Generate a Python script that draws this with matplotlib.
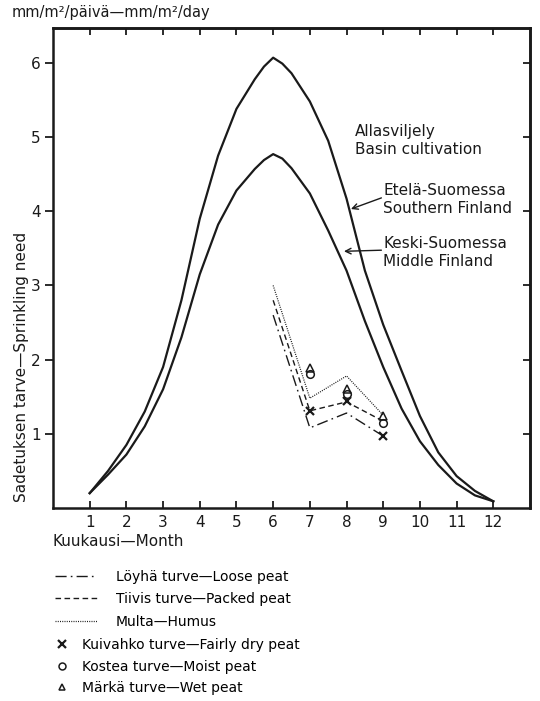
import matplotlib.pyplot as plt
from matplotlib.lines import Line2D

# monthly sprinkling need, basin cultivation
month_pts = [1, 1.5, 2, 2.5, 3, 3.5, 4, 4.5, 5, 5.5, 5.75, 6, 6.25, 6.5,
             7, 7.5, 8, 8.5, 9, 9.5, 10, 10.5, 11, 11.5, 12]
south = [0.2, 0.5, 0.85, 1.3, 1.9, 2.8, 3.9, 4.75, 5.38, 5.78, 5.95, 6.07, 5.99, 5.86,
         5.48, 4.95, 4.17, 3.2, 2.47, 1.85, 1.24, 0.75, 0.43, 0.23, 0.09]
middle = [0.2, 0.45, 0.72, 1.1, 1.6, 2.3, 3.15, 3.82, 4.28, 4.57, 4.69, 4.77, 4.71, 4.58,
          4.24, 3.74, 3.2, 2.52, 1.9, 1.34, 0.9, 0.58, 0.33, 0.17, 0.09]

# peat / soil types
peat_months = [6, 7, 8, 9]
loose = [2.6, 1.08, 1.28, 0.97]
packed = [2.8, 1.31, 1.43, 1.17]
humus = [3.0, 1.48, 1.78, 1.25]

mark_months = [7, 8, 9]
fairly_dry = [1.31, 1.44, 0.97]
moist = [1.80, 1.53, 1.15]
wet = [1.89, 1.60, 1.24]

month_ticks = list(range(1, 13))
need_ticks = [1, 2, 3, 4, 5, 6]

plt.rcParams['font.family'] = ['DejaVu Sans']
ink = '#1a1a1a'

fig = plt.figure(figsize=(5.4, 7.01), dpi=100)
ax = fig.add_axes([53 / 540, 1 - 508 / 701, 477 / 540, 480 / 701])

ax.plot(month_pts, south, color=ink, lw=1.6)
ax.plot(month_pts, middle, color=ink, lw=1.6)

ax.plot(peat_months, loose, color=ink, lw=1.0, dashes=(8, 3, 1.2, 3))
ax.plot(peat_months, packed, color=ink, lw=1.0, dashes=(4, 2.5))
ax.plot(peat_months, humus, color=ink, lw=0.9, dashes=(0.8, 1.0))

ax.plot(mark_months, fairly_dry, ls='none', marker='x', ms=6, mew=1.6, color=ink)
ax.plot(mark_months, moist, ls='none', marker='o', ms=5.5, mfc='white', mew=1.1, color=ink)
ax.plot(mark_months, wet, ls='none', marker='^', ms=5.5, mfc='none', mew=1.1, color=ink)

ax.set_xlim(0, 13)
ax.set_ylim(0, 6.47)
ax.set_xticks(month_ticks)
ax.set_yticks(need_ticks)
ax.tick_params(axis='x', direction='in', length=5, width=1.3, labelsize=11, pad=5, colors=ink)
ax.tick_params(axis='y', direction='out', length=6, width=1.3, labelsize=11, pad=3, colors=ink)
for s in ax.spines.values():
    s.set_linewidth(1.8)
    s.set_color(ink)

# inward ticks on top and right, no labels
top = ax.secondary_xaxis('top')
top.set_xticks(month_ticks)
top.tick_params(direction='in', length=5, width=1.3, labeltop=False, colors=ink)
top.spines['top'].set_linewidth(1.8)
right = ax.secondary_yaxis('right')
right.set_yticks(need_ticks)
right.tick_params(direction='in', length=5, width=1.3, labelright=False, colors=ink)
right.spines['right'].set_linewidth(1.8)

# texts
ax.text(8.23, 4.96, "Allasviljely\nBasin cultivation", fontsize=11, ha='left', va='center',
        linespacing=1.25, color=ink)
ax.text(9.0, 4.16, "Etelä-Suomessa\nSouthern Finland", fontsize=11, ha='left', va='center',
        linespacing=1.25, color=ink)
ax.text(9.0, 3.45, "Keski-Suomessa\nMiddle Finland", fontsize=11, ha='left', va='center',
        linespacing=1.25, color=ink)
ax.annotate("", xy=(8.12, 4.03), xytext=(8.95, 4.18),
            arrowprops=dict(arrowstyle='->', lw=1.0, color=ink, shrinkA=0, shrinkB=0))
ax.annotate("", xy=(7.93, 3.46), xytext=(8.95, 3.475),
            arrowprops=dict(arrowstyle='->', lw=1.0, color=ink, shrinkA=0, shrinkB=0))

fig.text(12 / 540, 1 - 12 / 701, "mm/m²/päivä—mm/m²/day", fontsize=10.5, ha='left',
         va='center', color=ink)
fig.text(22 / 540, 1 - 367 / 701, "Sadetuksen tarve—Sprinkling need", fontsize=11,
         rotation=90, ha='center', va='center', color=ink)
fig.text(53 / 540, 1 - 541 / 701, "Kuukausi—Month", fontsize=11, ha='left', va='center',
         color=ink)

# legends
line_handles = [
    Line2D([], [], color=ink, lw=1.0, dashes=(8, 3, 1.2, 3)),
    Line2D([], [], color=ink, lw=1.0, dashes=(4, 2.5)),
    Line2D([], [], color=ink, lw=0.9, dashes=(0.8, 1.0)),
]
line_labels = ["Löyhä turve—Loose peat", "Tiivis turve—Packed peat", "Multa—Humus"]
leg1 = fig.legend(line_handles, line_labels, loc='upper left',
                  bbox_to_anchor=(55 / 540, 1 - 570 / 701), frameon=False, fontsize=10,
                  handlelength=3.0, handletextpad=1.4, labelspacing=0.6,
                  borderpad=0, borderaxespad=0)

mark_handles = [
    Line2D([], [], ls='none', marker='x', ms=6, mew=1.6, color=ink),
    Line2D([], [], ls='none', marker='o', ms=5, mfc='white', mew=1.1, color=ink),
    Line2D([], [], ls='none', marker='^', ms=5, mfc='none', mew=1.1, color=ink),
]
mark_labels = ["Kuivahko turve—Fairly dry peat", "Kostea turve—Moist peat",
               "Märkä turve—Wet peat"]
leg2 = fig.legend(mark_handles, mark_labels, loc='upper left',
                  bbox_to_anchor=(55 / 540, 1 - 638 / 701), frameon=False, fontsize=10,
                  handlelength=1.0, handletextpad=0.95, labelspacing=0.55,
                  borderpad=0, borderaxespad=0)

fig.savefig("out.png", dpi=100, facecolor='white')
